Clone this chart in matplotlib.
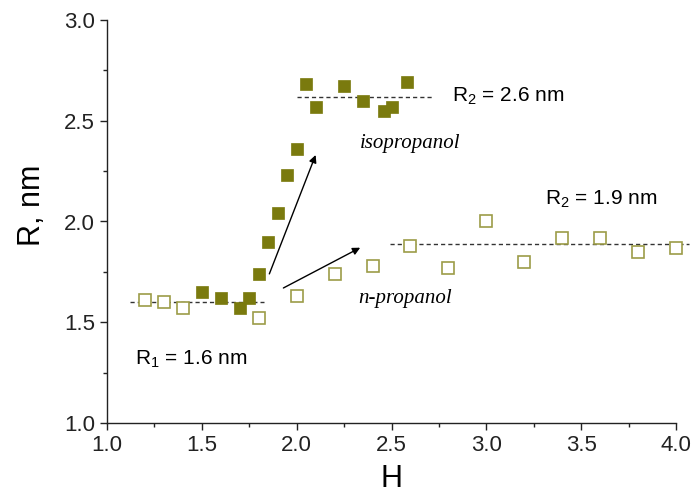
import matplotlib.pyplot as plt
from matplotlib.ticker import MultipleLocator

# isopropanol (filled squares)
h_iso = [1.5, 1.6, 1.7, 1.75, 1.8, 1.85, 1.9, 1.95, 2.0, 2.05, 2.1, 2.25, 2.35, 2.46, 2.5, 2.58]
r_iso = [1.65, 1.62, 1.57, 1.62, 1.74, 1.90, 2.04, 2.23, 2.36, 2.68, 2.57, 2.67, 2.60, 2.55, 2.57, 2.69]

# n-propanol (open squares)
h_npr = [1.2, 1.3, 1.4, 1.8, 2.0, 2.2, 2.4, 2.6, 2.8, 3.0, 3.2, 3.4, 3.6, 3.8, 4.0]
r_npr = [1.61, 1.60, 1.57, 1.52, 1.63, 1.74, 1.78, 1.88, 1.77, 2.00, 1.80, 1.92, 1.92, 1.85, 1.87]

# plateau levels: (x start, x end, R)
r1_line = (1.12, 1.83, 1.6)
r2_iso_line = (2.0, 2.72, 2.62)
r2_npr_line = (2.49, 4.07, 1.89)

plt.rcParams['font.family'] = ['Liberation Sans', 'DejaVu Sans']
plt.rcParams['mathtext.fontset'] = 'custom'
plt.rcParams['mathtext.rm'] = 'Liberation Sans'

fig = plt.figure(figsize=(6.96, 5.0), dpi=100)
ax = fig.add_axes([0.1537, 0.154, 0.8176, 0.806])

dash_kw = dict(color='#333333', lw=1.0, ls=(0, (3, 2.2)), zorder=1)
for x0, x1, r in (r1_line, r2_iso_line, r2_npr_line):
    ax.plot([x0, x1], [r, r], clip_on=False, **dash_kw)

ax.plot(h_npr, r_npr, ls='none', marker='s', ms=8, mfc='white',
        mec='#9c9c48', mew=1.2, zorder=3, clip_on=False)
ax.plot(h_iso, r_iso, ls='none', marker='s', ms=9, mfc='#7a7a0e',
        mec='#7a7a0e', mew=0.5, zorder=4)

# arrows
arrow_kw = dict(arrowstyle='-|>', color='black', lw=1.0, mutation_scale=11,
                shrinkA=0, shrinkB=0)
ax.annotate('', xy=(2.10, 2.33), xytext=(1.856, 1.74), arrowprops=arrow_kw)
ax.annotate('', xy=(2.335, 1.87), xytext=(1.93, 1.67), arrowprops=arrow_kw)

# labels
ax.text(2.82, 2.62, 'R$_\\mathrm{2}$ = 2.6 nm', fontsize=15, va='center')
ax.text(3.31, 2.11, 'R$_\\mathrm{2}$ = 1.9 nm', fontsize=15, va='center')
ax.text(1.148, 1.315, 'R$_\\mathrm{1}$ = 1.6 nm', fontsize=15, va='center')
ax.text(2.335, 2.385, 'isopropanol', fontsize=15, style='italic',
        family='Liberation Serif', va='center')
ax.text(2.325, 1.62, 'n-propanol', fontsize=15, style='italic',
        family='Liberation Serif', va='center')

ax.set_xlim(1.0, 4.0)
ax.set_ylim(1.0, 3.0)
ax.xaxis.set_major_locator(MultipleLocator(0.5))
ax.xaxis.set_minor_locator(MultipleLocator(0.25))
ax.yaxis.set_major_locator(MultipleLocator(0.5))
ax.yaxis.set_minor_locator(MultipleLocator(0.25))
ax.tick_params(which='major', direction='out', length=5, width=1,
               labelsize=16, color='#222222', labelcolor='#222222')
ax.tick_params(which='minor', direction='out', length=3, width=1, color='#222222')
ax.xaxis.set_major_formatter(plt.FormatStrFormatter('%.1f'))
ax.yaxis.set_major_formatter(plt.FormatStrFormatter('%.1f'))

for side in ('top', 'right'):
    ax.spines[side].set_visible(False)
for side in ('left', 'bottom'):
    ax.spines[side].set_linewidth(1.0)
    ax.spines[side].set_color('#222222')

ax.set_xlabel('H', fontsize=22, labelpad=6)
ax.set_ylabel('R, nm', fontsize=22)
ax.yaxis.set_label_coords(-0.105, 0.54)

fig.savefig('out.png', dpi=100)
